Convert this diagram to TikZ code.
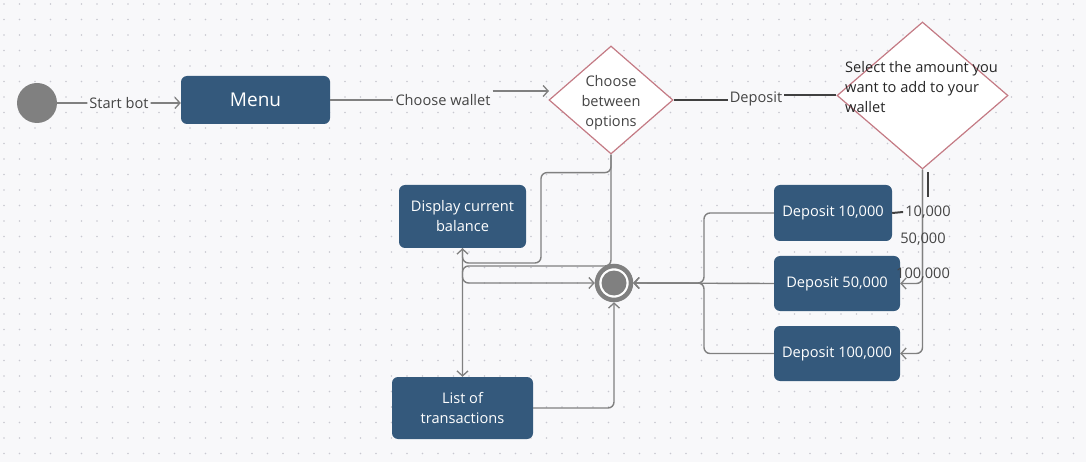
\documentclass[tikz,border=0pt]{standalone}
\usepackage{fontspec}
\setmainfont{Open Sans}
\usetikzlibrary{arrows.meta,shapes.geometric}
\definecolor{bgc}{RGB}{248,248,250}
\definecolor{dotc}{RGB}{200,200,208}
\definecolor{boxc}{RGB}{52,89,124}
\definecolor{linec}{RGB}{128,128,128}
\definecolor{darkc}{RGB}{64,64,64}
\definecolor{diac}{RGB}{196,122,132}
\definecolor{labc}{RGB}{68,68,68}
\tikzset{
  stbox/.style={rectangle,rounded corners=6pt,fill=boxc,text=white,align=center,inner sep=0pt,font=\fontsize{14.6}{20}\selectfont},
  diabox/.style={diamond,draw=diac,line width=1.2pt,fill=white,inner sep=0pt},
  conn/.style={draw=linec,line width=1.4pt,rounded corners=6pt},
  arr/.style={conn,-{Straight Barb[length=5pt,width=11pt,line width=1.3pt]}},
  dconn/.style={draw=darkc,line width=2pt},
  lab/.style={text=labc,font=\fontsize{14.6}{18}\selectfont,inner sep=2pt},
  flab/.style={lab,fill=bgc},
}
\begin{document}
\begin{tikzpicture}[x=1pt,y=-1pt]
\fill[bgc] (0,0) rectangle (1086,462);
\useasboundingbox (0,0) rectangle (1086,462);
\foreach \i in {0,...,70} \foreach \j in {0,...,30} \fill[dotc] (\i*15.5+4,\j*15.5+4) circle (0.8);

% nodes
\node[circle,fill=linec,minimum size=40pt,inner sep=0pt] (start) at (37,103) {};
\node[stbox,minimum width=149pt,minimum height=48pt,font=\fontsize{19}{22}\selectfont] (menu) at (255.5,100) {Menu};
\node[diabox,minimum width=124pt,minimum height=108pt] (choose) at (611,100) {};
\node[text=labc,align=center,font=\fontsize{14.6}{20}\selectfont] at (611,102.5) {Choose\\between\\options};
\node[diabox,minimum width=171pt,minimum height=147pt] (sel) at (922.5,95.5) {};
\node[anchor=west,align=left,text=black!85,font=\fontsize{14.6}{20}\selectfont,inner sep=0pt] at (845,87) {Select the amount you\\want to add to your\\wallet};
\node[stbox,minimum width=127pt,minimum height=63pt] (disp) at (462.5,216.5) {Display current\\balance};
\node[stbox,minimum width=141pt,minimum height=62pt] (list) at (462.5,408) {List of\\transactions};
\node[stbox,minimum width=118pt,minimum height=56pt] (d10) at (833,213) {Deposit 10,000};
\node[stbox,minimum width=126pt,minimum height=55pt] (d50) at (837,283.5) {Deposit 50,000};
\node[stbox,minimum width=126pt,minimum height=55pt] (d100) at (837,353.5) {Deposit 100,000};
\node[circle,draw=linec,line width=4.5pt,fill=white,minimum size=34pt,inner sep=0pt] (final) at (614,283) {};
\fill[linec] (final) circle (12.5);

% start -> menu
\draw[arr] (start.east) -- node[flab]{Start bot} (start.east -| menu.west);
% menu -> choose
\node[flab] (cw) at (443,100) {Choose wallet};
\coordinate (cwend) at (549,91);
\draw[conn] (menu.east) -- (menu.east -| cw.west);
\draw[arr] (cw.east |- cwend) -- (cwend);
% choose -> sel (Deposit)
\node[flab] (dep) at (756,99) {Deposit};
\draw[dconn] (choose.east) -- (choose.east -| dep.west);
\draw[dconn] (dep.east |- sel.west) -- (sel.west);
% choose -> display
\draw[arr] (choose.south) -- ++(0,18) -| (541,263) -| (disp.south);
% choose -> list
\draw[arr] (choose.south) |- (462.5,266) -- (list.north);
% display -> final
\draw[arr] (disp.south) |- (final.west);
% list -> final
\draw[arr] (list.east) -| (final.south);
% deposits -> final
\coordinate (jn) at (704,283);
\draw[arr] (d10.west) -| (jn) -- (final.east);
\draw[arr] (d100.west) -| (jn) -- (final.east);
\draw[arr] (d50.west) -- (final.east);
% sel -> deposits
\draw[arr] (sel.south) |- (d50.east);
\draw[arr] (sel.south) |- (d100.east);
\node[lab] at (923,239) {50,000};
\node[lab] at (923,274) {100,000};
\node[lab] (l10) at (928,212) {10,000};
\coordinate (t10) at (928,172);
\draw[dconn] (t10) -- (t10 |- 0,197);
\draw[dconn] (l10.west) -- (d10.east);
\end{tikzpicture}
\end{document}
